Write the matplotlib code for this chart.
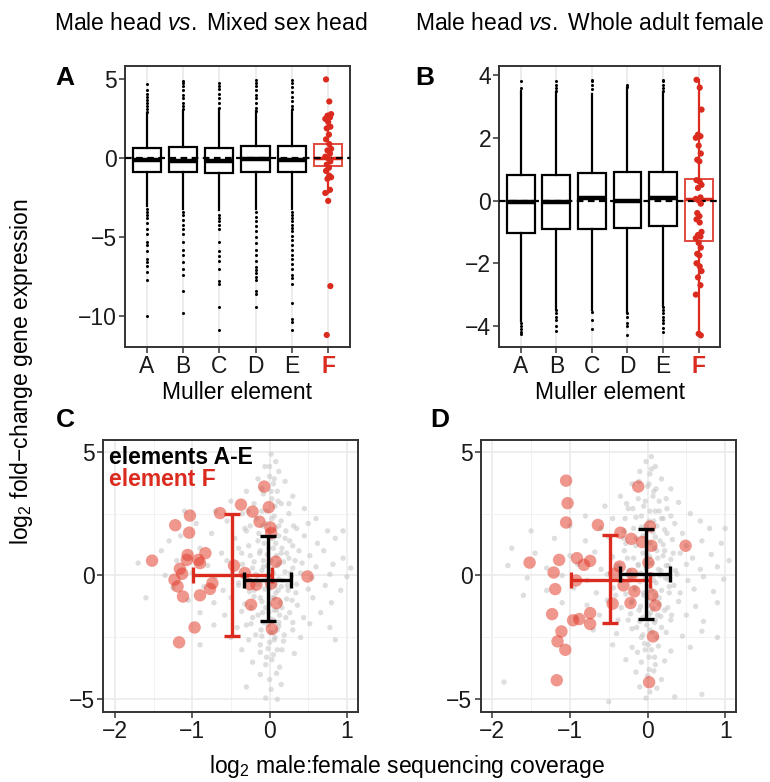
import matplotlib.pyplot as plt
import numpy as np

plt.rcParams['font.family'] = ['Liberation Sans', 'DejaVu Sans']
plt.rcParams['mathtext.fontset'] = 'custom'
plt.rcParams['mathtext.rm'] = 'Liberation Sans'
plt.rcParams['mathtext.it'] = 'Liberation Sans:italic'

muller = ['A', 'B', 'C', 'D', 'E', 'F']
red = '#db2b1e'
edge = '#333333'

# --- panel A: male head vs mixed sex head (box stats per element) ---
a_q1 = [-0.89, -0.90, -0.95, -0.90, -0.90, -0.49]
a_med = [-0.10, -0.15, -0.15, -0.05, -0.10, 0.02]
a_q3 = [0.63, 0.74, 0.68, 0.75, 0.75, 0.93]
a_wlo = [-3.0, -3.2, -3.3, -3.2, -3.2, -2.2]
a_whi = [2.9, 3.0, 3.1, 3.0, 3.0, 2.8]
a_out = [
    [2.95, 3.1, 3.3, 3.5, 3.7, 3.9, 4.1, 4.3, 4.7, -3.2, -3.4, -3.6, -3.8, -4.1,
     -4.5, -4.8, -5.3, -5.5, -5.9, -6.4, -6.6, -6.8, -7.2, -7.7, -10.0],
    [3.1, 3.3, 3.5, 3.8, 4.0, 4.3, 4.6, 4.8, 4.9, -3.4, -3.6, -3.9, -4.2, -4.5,
     -4.8, -5.3, -5.8, -6.1, -6.6, -7.0, -7.4, -8.4, -9.8],
    [3.2, 3.5, 3.8, 4.1, 4.4, 4.6, 4.8, -3.6, -3.8, -4.0, -4.2, -4.5, -5.3, -5.9,
     -6.2, -6.5, -7.0, -7.8, -8.0, -9.4, -10.9],
    [3.0, 3.2, 3.5, 3.8, 4.0, 4.3, 4.6, 4.8, 4.95, -3.4, -3.7, -4.0, -4.3, -4.6,
     -5.0, -5.4, -5.8, -6.1, -6.5, -6.9, -7.1, -7.3, -7.5, -7.7, -8.4, -8.6, -9.4],
    [3.1, 3.3, 3.6, 3.9, 4.2, 4.5, 4.8, 4.95, -3.4, -3.6, -3.8, -4.0, -4.2, -4.4,
     -4.6, -4.9, -5.2, -5.5, -5.8, -6.1, -6.4, -6.7, -7.0, -7.4, -7.6, -8.0, -9.2,
     -10.2, -10.4, -10.9],
]
a_f_genes = [5.0, 3.6, 2.8, 2.7, 2.6, 2.5, 2.3, 2.0, 1.9, 1.5, 1.2, 0.9, 0.6, 0.5,
             0.3, 0.1, 0.0, -0.2, -0.4, -0.6, -0.8, -1.1, -1.2, -1.3, -2.0, -2.2,
             -2.7, -8.1, -11.2]

# --- panel B: male head vs whole adult female ---
b_q1 = [-1.03, -0.90, -0.90, -0.87, -0.80, -1.30]
b_med = [-0.05, -0.05, 0.07, -0.03, 0.07, 0.05]
b_q3 = [0.83, 0.83, 0.88, 0.92, 0.90, 0.70]
b_wlo = [-3.85, -3.45, -3.5, -3.55, -3.35, -4.3]
b_whi = [3.5, 3.45, 3.4, 3.6, 3.45, 3.85]
b_out = [
    [3.6, 3.8, -3.9, -4.0, -4.1, -4.2, -4.25],
    [3.5, 3.6, 3.7, 3.8, -3.5, -3.6, -3.7, -3.8, -4.0, -4.15],
    [3.55, 3.7, 3.8, 3.85, -3.55, -3.8, -4.1],
    [3.62, 3.7, -3.6, -3.7, -3.9, -4.0, -4.3],
    [3.5, 3.6, 3.7, 3.8, 3.85, -3.4, -3.5, -3.6, -3.7, -3.8, -3.9, -4.05, -4.2],
]
b_f_genes = [3.85, 3.6, 2.9, 2.1, 2.05, 2.0, 1.75, 1.5, 1.3, 1.25, 0.65, 0.6, 0.5,
             0.4, 0.1, 0.05, 0.0, -0.1, -0.4, -0.5, -0.6, -0.7, -1.0, -1.1, -1.15,
             -1.2, -1.35, -1.5, -1.7, -1.75, -2.0, -2.1, -2.25, -2.45, -2.7, -3.0,
             -4.25, -4.3]

# --- panel C: coverage vs fold change (mixed sex head) ---
c_f_cov = [-0.07, -0.37, -0.01, -0.22, -0.64, -1.03, -0.13, -1.22, 0.01, -1.04,
           0.02, -0.83, -1.06, -1.52, -1.07, -0.92, -0.90, 0.08, -0.46, -1.16,
           -1.13, -0.32, 0.49, -1.23, -0.74, -0.26, -0.17, 0.02, -1.19, -0.77,
           -1.12, -0.90, 0.09, -0.24, -0.97, 0.03, -1.17]
c_f_fc = [3.59, 2.86, 2.76, 2.58, 2.52, 2.42, 2.17, 2.03, 1.94, 1.73,
          1.71, 0.90, 0.83, 0.60, 0.63, 0.63, 0.50, 0.56, 0.40, 0.27,
          0.07, 0.10, -0.04, -0.17, -0.31, -0.35, -0.37, -0.33, -0.44, -0.54,
          -0.85, -0.80, -1.11, -1.18, -2.10, -2.16, -2.70]
c_cloud = [
    (0.02, 4.9), (0.08, 4.6), (-0.06, 4.4), (0.12, 4.2), (0.0, 4.0), (-0.15, 3.9),
    (0.05, 3.7), (0.2, 3.8), (-0.3, 3.4), (-0.08, 3.3), (0.1, 3.4), (0.03, 3.1),
    (0.3, 3.2), (-0.5, 3.0), (-0.2, 2.9), (0.15, 2.9), (0.45, 2.7), (-0.7, 2.6),
    (-0.35, 2.5), (-0.1, 2.6), (0.06, 2.4), (0.25, 2.5), (0.6, 2.3), (-0.95, 2.1),
    (-0.55, 2.2), (-0.25, 2.0), (-0.05, 2.1), (0.12, 2.0), (0.35, 1.9), (0.5, 2.1),
    (0.75, 1.8), (-1.15, 1.6), (-0.75, 1.7), (-0.45, 1.5), (-0.3, 1.8), (-0.15, 1.4),
    (0.0, 1.6), (0.08, 1.3), (0.2, 1.5), (0.3, 1.2), (0.45, 1.6), (0.62, 1.3),
    (0.85, 1.5), (-1.4, 1.0), (-0.9, 1.1), (-0.62, 0.9), (-0.4, 1.1), (-0.25, 0.8),
    (-0.12, 1.0), (-0.03, 0.85), (0.05, 1.1), (0.15, 0.9), (0.25, 0.7), (0.38, 1.0),
    (0.52, 0.8), (0.7, 1.0), (0.95, 0.7), (-1.7, 0.5), (-1.2, 0.6), (-0.8, 0.4),
    (-0.55, 0.6), (-0.35, 0.45), (-0.2, 0.55), (-0.08, 0.35), (0.02, 0.6), (0.1, 0.4),
    (0.18, 0.55), (0.3, 0.3), (0.42, 0.5), (0.6, 0.35), (0.82, 0.45), (1.05, 0.3),
    (-1.35, 0.0), (-1.0, 0.1), (-0.7, -0.05), (-0.48, 0.15), (-0.3, -0.1), (-0.18, 0.05),
    (-0.1, 0.2), (-0.02, -0.05), (0.05, 0.1), (0.12, -0.15), (0.2, 0.15), (0.28, -0.05),
    (0.4, 0.1), (0.55, -0.1), (0.78, 0.05), (1.0, -0.05), (-1.25, -0.5), (-0.85, -0.45),
    (-0.6, -0.6), (-0.4, -0.4), (-0.26, -0.65), (-0.15, -0.35), (-0.06, -0.55), (0.02, -0.3),
    (0.08, -0.7), (0.15, -0.45), (0.24, -0.6), (0.35, -0.35), (0.5, -0.55), (0.72, -0.4),
    (0.92, -0.6), (-1.05, -1.0), (-0.72, -1.1), (-0.5, -0.9), (-0.32, -1.15), (-0.2, -0.85),
    (-0.1, -1.05), (0.0, -1.2), (0.06, -0.9), (0.14, -1.1), (0.22, -0.95), (0.36, -1.2),
    (0.56, -0.9), (0.8, -1.1), (-0.9, -1.5), (-0.58, -1.6), (-0.36, -1.45), (-0.22, -1.7),
    (-0.09, -1.5), (0.01, -1.75), (0.06, -1.4), (0.13, -1.6), (0.26, -1.5), (0.44, -1.7),
    (0.66, -1.5), (-0.72, -2.0), (-0.42, -2.1), (-0.24, -1.95), (-0.11, -2.2), (-0.02, -2.0),
    (0.04, -2.3), (0.12, -2.05), (0.3, -2.2), (0.52, -1.95), (0.78, -2.1), (-0.5, -2.5),
    (-0.27, -2.6), (-0.1, -2.45), (0.0, -2.7), (0.07, -2.5), (0.18, -2.65), (0.4, -2.5),
    (-0.36, -3.0), (-0.12, -3.1), (-0.02, -2.95), (0.05, -3.2), (0.16, -3.0), (0.32, -3.15),
    (-0.22, -3.5), (-0.05, -3.6), (0.03, -3.4), (0.13, -3.7), (-0.12, -4.0), (0.0, -4.2),
    (0.09, -3.95), (-0.3, -4.5), (0.02, -4.6), (0.15, -4.4), (-0.05, -4.95), (0.1, -5.0),
    (-1.6, -0.9), (-1.3, 1.4), (-0.9, -2.8), (0.95, 1.8), (0.85, -2.6), (-1.1, 2.6),
    # dense core around (0, 0)
    (-0.32, 1.9), (-0.27, 1.2), (-0.22, 0.3), (-0.2, -0.6), (-0.24, -1.3), (-0.3, -2.0),
    (-0.17, 2.3), (-0.14, 1.7), (-0.13, 0.9), (-0.16, 0.0), (-0.12, -0.9), (-0.15, -1.6),
    (-0.18, -2.4), (-0.09, 2.0), (-0.07, 1.3), (-0.08, 0.6), (-0.06, -0.2), (-0.05, -1.3),
    (-0.07, -1.9), (-0.04, 2.6), (-0.02, 1.8), (-0.01, 1.1), (-0.03, 0.4), (0.0, -0.5),
    (-0.01, -1.5), (0.01, -2.3), (0.02, 3.4), (0.03, 2.3), (0.04, 1.5), (0.03, 0.2),
    (0.04, -0.9), (0.05, -1.8), (0.06, -2.6), (0.07, 2.8), (0.08, 1.9), (0.09, 0.8),
    (0.07, -0.4), (0.09, -1.4), (0.1, -2.2), (0.11, 3.0), (0.12, 1.6), (0.13, 0.5),
    (0.11, -0.6), (0.12, -1.9), (0.15, 2.2), (0.16, 1.1), (0.17, -0.2), (0.16, -1.3),
    (0.19, -2.4), (0.21, 1.8), (0.22, 0.9), (0.23, -0.4), (0.21, -1.7), (0.26, 1.4),
    (0.27, 0.1), (0.29, -1.0), (0.31, 2.0), (0.33, 0.6), (0.34, -0.7), (0.3, -1.9),
    (-0.36, 0.9), (-0.4, -0.3), (-0.28, 2.6), (0.25, 2.9), (-0.1, 3.5), (0.06, 3.9),
    (-0.04, -3.3), (0.1, -3.0), (-0.12, -2.8), (0.0, 4.4),
]
# error bars: [x_lo, x_mid, x_hi, y_lo, y_mid, y_hi]
c_err_ae = [-0.33, -0.02, 0.28, -1.83, -0.20, 1.60]
c_err_f = [-0.99, -0.48, 0.03, -2.46, 0.00, 2.49]

# --- panel D: coverage vs fold change (whole adult female) ---
d_f_cov = [-1.05, -0.12, -1.03, -1.05, -0.64, -0.35, 0.03, -0.21, -0.07, 0.05,
           0.49, -1.52, -1.14, -0.91, -0.74, -0.82, 0.01, -0.36, -1.21, -0.43,
           -0.20, -0.92, -1.19, -0.31, -0.17, 0.06, 0.10, -0.45, -0.22, -1.23,
           -0.74, -0.88, -0.96, -0.74, -1.11, 0.07, -1.16, -1.06, -1.17, 0.02]
d_f_fc = [3.83, 3.59, 2.92, 2.14, 2.04, 1.73, 1.98, 1.48, 1.35, 1.20,
          1.20, 0.52, 0.63, 0.70, 0.59, 0.43, 0.52, 0.36, 0.12, 0.07,
          0.07, -0.20, -0.55, -0.40, -0.64, -0.78, -1.21, -1.14, -1.11, -1.56,
          -1.52, -1.76, -1.81, -1.96, -2.26, -2.46, -2.66, -3.00, -4.23, -4.31]
d_cloud = [
    (0.05, 4.8), (-0.02, 4.6), (0.1, 4.4), (-0.1, 4.2), (0.03, 4.1), (0.18, 3.9),
    (-0.2, 3.7), (0.0, 3.6), (0.08, 3.4), (0.3, 3.5), (-0.35, 3.2), (-0.12, 3.1),
    (0.15, 3.0), (0.4, 2.95), (-0.55, 2.8), (-0.25, 2.7), (-0.05, 2.8), (0.1, 2.6),
    (0.25, 2.7), (0.55, 2.5), (-0.8, 2.4), (-0.45, 2.3), (-0.15, 2.35), (0.02, 2.2),
    (0.18, 2.3), (0.35, 2.1), (0.68, 2.2), (-1.0, 2.0), (-0.6, 1.9), (-0.3, 1.8),
    (-0.08, 1.95), (0.07, 1.75), (0.22, 1.85), (0.45, 1.7), (0.8, 1.9), (-1.2, 1.5),
    (-0.8, 1.4), (-0.5, 1.55), (-0.28, 1.3), (-0.14, 1.5), (0.0, 1.35), (0.1, 1.55),
    (0.2, 1.25), (0.32, 1.45), (0.5, 1.2), (0.7, 1.4), (0.95, 1.3), (-1.45, 0.9),
    (-1.0, 0.8), (-0.68, 0.95), (-0.45, 0.75), (-0.3, 1.0), (-0.18, 0.7), (-0.06, 0.9),
    (0.03, 0.75), (0.12, 1.0), (0.2, 0.8), (0.3, 0.65), (0.42, 0.9), (0.58, 0.7),
    (0.82, 0.85), (1.05, 0.6), (-1.8, 0.4), (-1.3, 0.3), (-0.9, 0.45), (-0.6, 0.25),
    (-0.4, 0.4), (-0.24, 0.2), (-0.12, 0.45), (-0.02, 0.3), (0.06, 0.5), (0.14, 0.25),
    (0.24, 0.4), (0.36, 0.2), (0.5, 0.45), (0.68, 0.25), (0.9, 0.35), (-1.55, -0.1),
    (-1.1, 0.0), (-0.78, -0.2), (-0.52, 0.05), (-0.34, -0.15), (-0.2, 0.0), (-0.1, -0.25),
    (0.0, -0.05), (0.08, -0.2), (0.16, 0.0), (0.26, -0.15), (0.38, 0.05), (0.52, -0.2),
    (0.72, -0.05), (0.98, -0.15), (-1.3, -0.6), (-0.95, -0.5), (-0.66, -0.7), (-0.44, -0.5),
    (-0.28, -0.75), (-0.16, -0.55), (-0.05, -0.7), (0.03, -0.45), (0.1, -0.8), (0.18, -0.6),
    (0.28, -0.45), (0.42, -0.7), (0.6, -0.55), (0.85, -0.65), (-1.1, -1.1), (-0.78, -1.2),
    (-0.52, -1.0), (-0.34, -1.3), (-0.2, -1.05), (-0.09, -1.25), (0.0, -1.0), (0.07, -1.35),
    (0.15, -1.15), (0.26, -1.3), (0.4, -1.05), (0.62, -1.25), (0.9, -1.1), (-0.92, -1.7),
    (-0.62, -1.6), (-0.38, -1.8), (-0.22, -1.55), (-0.1, -1.85), (0.02, -1.6), (0.09, -1.9),
    (0.17, -1.65), (0.3, -1.8), (0.5, -1.6), (0.72, -1.85), (-0.7, -2.2), (-0.4, -2.35),
    (-0.2, -2.15), (-0.06, -2.4), (0.03, -2.2), (0.12, -2.5), (0.24, -2.3), (0.45, -2.45),
    (0.7, -2.25), (-0.45, -2.8), (-0.2, -2.9), (-0.04, -2.75), (0.05, -3.0), (0.14, -2.85),
    (0.3, -3.05), (0.55, -2.9), (-0.28, -3.4), (-0.08, -3.5), (0.02, -3.3), (0.1, -3.6),
    (0.22, -3.45), (-0.15, -3.9), (0.0, -4.05), (0.08, -3.85), (0.18, -4.2), (-0.1, -4.5),
    (0.03, -4.7), (0.12, -4.55), (-0.02, -4.95), (-1.85, -4.3), (-0.5, -5.1), (0.35, -4.9),
    (0.7, -4.8), (-1.75, 1.1), (-1.6, -0.8), (-1.5, 1.8), (0.9, -2.5), (1.0, 1.9),
    # dense core around (0, 0)
    (-0.31, 1.5), (-0.26, 0.7), (-0.23, -0.2), (-0.21, -1.1), (-0.25, -1.8), (-0.29, 2.3),
    (-0.18, 1.9), (-0.15, 1.2), (-0.12, 0.4), (-0.17, -0.5), (-0.11, -1.4), (-0.14, -2.1),
    (-0.19, 2.7), (-0.08, 2.4), (-0.06, 1.6), (-0.09, 0.1), (-0.05, -0.8), (-0.06, -1.7),
    (-0.08, -2.5), (-0.03, 3.0), (-0.02, 2.0), (0.0, 0.9), (-0.03, -0.1), (0.01, -1.2),
    (-0.01, -2.0), (0.01, -2.8), (0.02, 3.7), (0.03, 2.6), (0.04, 1.3), (0.02, 0.5),
    (0.05, -0.6), (0.04, -1.5), (0.06, -2.3), (0.07, 3.2), (0.08, 2.2), (0.09, 1.1),
    (0.07, 0.0), (0.08, -1.0), (0.1, -1.8), (0.11, 3.5), (0.12, 2.0), (0.13, 0.7),
    (0.11, -0.3), (0.13, -1.6), (0.15, 2.6), (0.16, 1.4), (0.17, 0.2), (0.15, -0.9),
    (0.18, -2.1), (0.2, 2.3), (0.22, 1.0), (0.23, -0.1), (0.22, -1.4), (0.25, 1.7),
    (0.27, 0.4), (0.28, -0.7), (0.3, 2.4), (0.33, 0.9), (0.34, -0.4), (0.31, -1.6),
    (-0.37, 0.4), (-0.41, -0.8), (-0.27, 2.9), (0.24, 3.1), (-0.11, 3.8), (0.05, 4.3),
    (-0.03, -3.0), (0.09, -3.3), (-0.13, -3.1), (0.02, -3.8),
]
d_err_ae = [-0.35, -0.02, 0.29, -1.76, 0.06, 1.88]
d_err_f = [-0.99, -0.48, 0.03, -1.90, -0.17, 1.64]

jitter = [-0.06, 0.03, 0.08, -0.02, 0.05, -0.08, 0.0, 0.06, -0.04, 0.02]

fig = plt.figure(figsize=(7.7, 7.82), dpi=100)
ax_a = fig.add_axes([0.1623, 0.5563, 0.2922, 0.3593])
ax_b = fig.add_axes([0.6485, 0.5563, 0.2866, 0.3593])
ax_c = fig.add_axes([0.1342, 0.0899, 0.3304, 0.3474])
ax_d = fig.add_axes([0.6243, 0.0899, 0.3316, 0.3474])


def style(ax):
    for s in ax.spines.values():
        s.set_color(edge)
        s.set_linewidth(1.4)
    ax.tick_params(length=4, width=1.1, color=edge, labelsize=16.5, pad=2,
                   labelcolor='#1a1a1a')
    ax.set_axisbelow(True)


def box_panel(ax, q1, med, q3, wlo, whi, out, f_genes, ylim, yticks):
    pos = np.arange(1, 7)
    stats = []
    for i in range(6):
        stats.append(dict(q1=q1[i], med=med[i], q3=q3[i], whislo=wlo[i],
                          whishi=whi[i], fliers=out[i] if i < 5 else []))
    ax.bxp(stats[:5], positions=pos[:5], widths=0.78, showcaps=False,
           patch_artist=True,
           boxprops=dict(facecolor='white', edgecolor='black', linewidth=1.6),
           whiskerprops=dict(color='black', linewidth=1.6),
           medianprops=dict(color='black', linewidth=3.2),
           flierprops=dict(marker='o', markersize=2.2, markerfacecolor='black',
                           markeredgecolor='none'))
    ax.bxp(stats[5:], positions=pos[5:], widths=0.78, showcaps=False,
           patch_artist=True,
           boxprops=dict(facecolor='white', edgecolor=red, linewidth=1.4, alpha=0.85),
           whiskerprops=dict(color=red, linewidth=1.6),
           medianprops=dict(color=red, linewidth=2.5))
    jit = np.resize(jitter, len(f_genes))
    ax.scatter(6 + jit, f_genes, s=20, color=red, edgecolors='none', zorder=4)
    ax.axhline(0, color='black', ls=(0, (3, 2)), lw=1.6, zorder=3)
    ax.set_xlim(0.4, 6.6)
    ax.set_ylim(*ylim)
    ax.set_yticks(yticks)
    ax.set_xticks(pos)
    ax.set_xticklabels(muller)
    ax.grid(axis='x', color='#ebebeb', lw=1.3)
    style(ax)
    lab = ax.get_xticklabels()[-1]
    lab.set_color(red)
    lab.set_fontweight('bold')
    ax.set_xlabel('Muller element', fontsize=16.5, labelpad=2)


box_panel(ax_a, a_q1, a_med, a_q3, a_wlo, a_whi, a_out, a_f_genes,
          (-11.96, 5.85), [-10, -5, 0, 5])
box_panel(ax_b, b_q1, b_med, b_q3, b_wlo, b_whi, b_out, b_f_genes,
          (-4.67, 4.29), [-4, -2, 0, 2, 4])


def scatter_panel(ax, cloud, f_cov, f_fc, err_ae, err_f):
    cx, cy = zip(*cloud)
    ax.scatter(cx, cy, s=15, color='#c8c8c8', alpha=0.6, edgecolors='none', zorder=1)
    ax.scatter(f_cov, f_fc, s=80, color='#e2402f', alpha=0.55, edgecolors='none',
               zorder=2)
    for e, col in ((err_f, red), (err_ae, 'black')):
        ax.errorbar(e[1], e[4], xerr=[[e[1] - e[0]], [e[2] - e[1]]],
                    yerr=[[e[4] - e[3]], [e[5] - e[4]]], color=col, lw=2.4,
                    capsize=6, capthick=2.4, zorder=3)
    ax.set_xlim(-2.15, 1.14)
    ax.set_ylim(-5.5, 5.47)
    ax.set_xticks([-2, -1, 0, 1])
    ax.set_yticks([-5, 0, 5])
    ax.set_xticks([-1.5, -0.5, 0.5], minor=True)
    ax.set_yticks([-2.5, 2.5], minor=True)
    ax.tick_params(which='minor', length=0)
    ax.grid(which='major', color='#ebebeb', lw=1.2)
    ax.grid(which='minor', color='#f2f2f2', lw=0.7)
    style(ax)


scatter_panel(ax_c, c_cloud, c_f_cov, c_f_fc, c_err_ae, c_err_f)
scatter_panel(ax_d, d_cloud, d_f_cov, d_f_fc, d_err_ae, d_err_f)

ax_c.text(0.024, 0.936, 'elements A-E', transform=ax_c.transAxes, fontsize=16.5,
          fontweight='bold', color='black', va='center')
ax_c.text(0.024, 0.856, 'element F', transform=ax_c.transAxes, fontsize=16.5,
          fontweight='bold', color=red, va='center')

fig.text(211 / 770, 1 - 24 / 782, r'Male head $\it{vs.}$ Mixed sex head',
         fontsize=16.5, ha='center', va='center')
fig.text(590 / 770, 1 - 24 / 782, r'Male head $\it{vs.}$ Whole adult female',
         fontsize=16.5, ha='center', va='center')
fig.text(22 / 770, 1 - 372 / 782, 'log$_2$ fold\u2212change gene expression',
         fontsize=16.5, rotation=90, ha='center', va='center')
fig.text(407 / 770, 1 - 767 / 782, 'log$_2$ male:female sequencing coverage',
         fontsize=16.5, ha='center', va='center')

for letter, x, y in (('A', 65, 78), ('B', 425, 78), ('C', 65, 420), ('D', 440, 420)):
    fig.text(x / 770, 1 - y / 782, letter, fontsize=19, fontweight='bold',
             ha='center', va='center')

fig.savefig('out.png', dpi=100)
